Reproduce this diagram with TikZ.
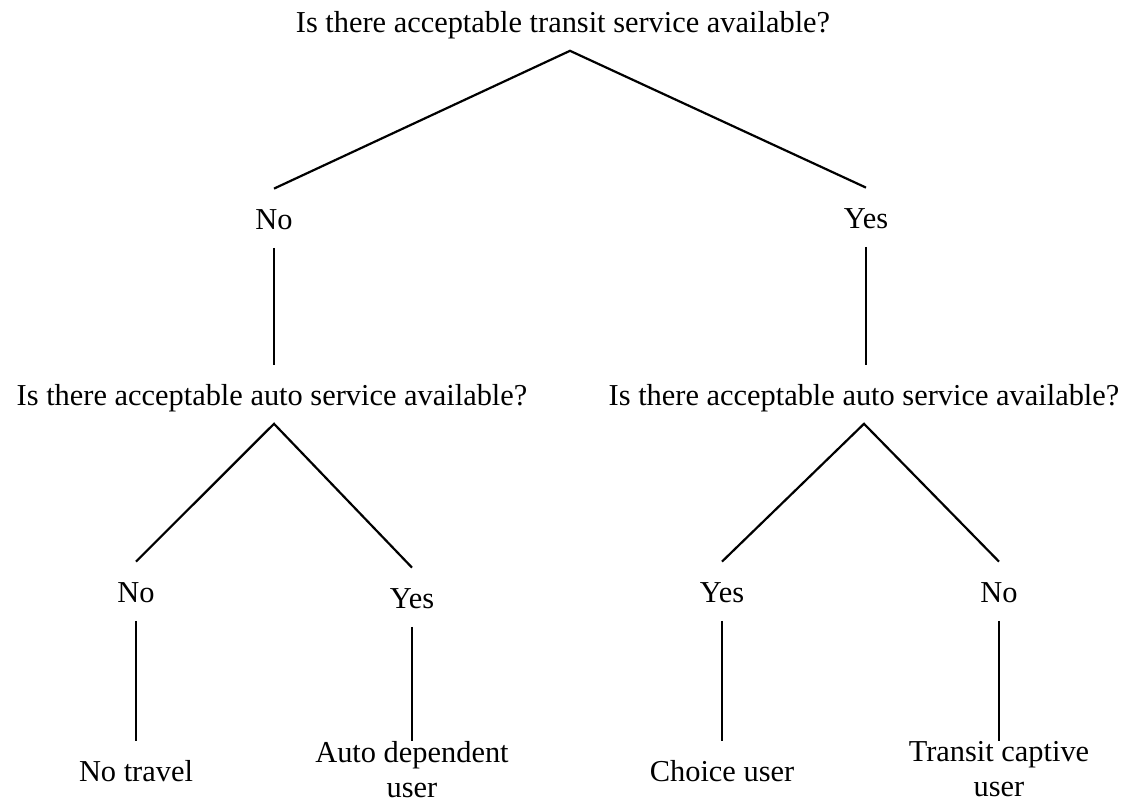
\documentclass[tikz,border=0pt]{standalone}
\usepackage{fontspec}
\setmainfont{Liberation Serif}
\usepackage{tikz}
\usetikzlibrary{calc}

\begin{document}
\begin{tikzpicture}[x=0.5pt,y=-0.5pt,
		txt/.style={font=\fontsize{15.2}{17.5}\selectfont,inner xsep=2pt},
		ans/.style={txt,anchor=base,text height=10.8pt,text depth=0pt,inner ysep=9.2pt},
		leaf/.style={ans,anchor=north,align=center},
		leaftwo/.style={txt,anchor=north,align=center,inner ysep=0pt},
		branch/.style={line width=1.1pt}]
		\useasboundingbox (0,0) rectangle (1130,804);
		
		\node[ans] (q1) at (563,32) {Is there acceptable transit service available?};
		\node[ans] (no1) at (274,229) {No};
		\node[ans] (yes1) at (866,228) {Yes};
		
		\node[ans] (q2) at (272,405) {Is there acceptable auto service available?};
		\node[ans] (q3) at (864,405) {Is there acceptable auto service available?};
		
		\node[ans] (no2) at (136,602) {No};
		\node[ans] (yes2) at (412,608) {Yes};
		\node[ans] (yes3) at (722,602) {Yes};
		\node[ans] (no3) at (999,602) {No};
		
		\node[leaf] (notravel) at (136,741) {No travel};
		\node[leaftwo] (autodep) at (412,741) {Auto dependent\\user};
		\node[leaf] (choice) at (722,741) {Choice user};
		\node[leaftwo] (captive) at (999,741) {Transit captive\\user};
		
		\draw[branch] (no1.north) -- ([xshift=3.5pt]q1.south) -- (yes1.north);
		\draw[branch] (no1.south) -- (q2.north -| no1.south);
		\draw[branch] (yes1.south) -- (q3.north -| yes1.south);
		
		\draw[branch] (no2.north) -- (q2.south -| no1.south) -- (yes2.north);
		\draw[branch] (yes3.north) -- (q3.south) -- (no3.north);
		
		\draw[branch] (no2.south) -- (notravel.north);
		\draw[branch] (yes2.south) -- (autodep.north);
		\draw[branch] (yes3.south) -- (choice.north);
		\draw[branch] (no3.south) -- (captive.north);
	\end{tikzpicture}
\end{document}
